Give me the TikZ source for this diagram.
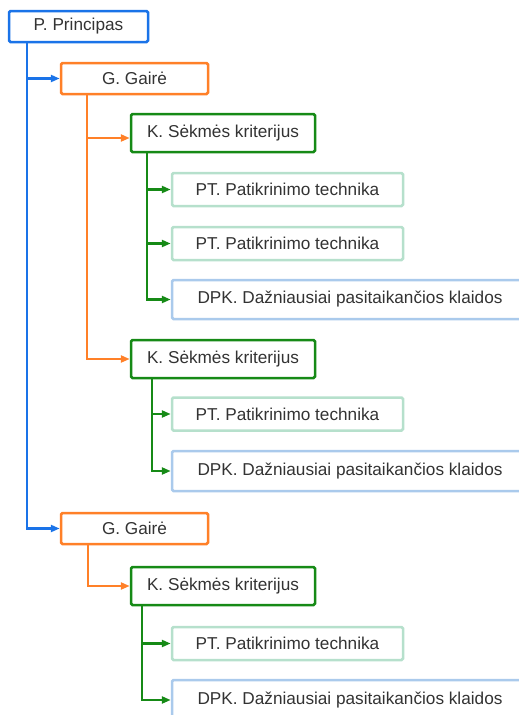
\documentclass[tikz,border=0pt]{standalone}
\usepackage{fontspec}
\setmainfont{Liberation Sans}
\usetikzlibrary{arrows.meta}
\definecolor{cblue}{RGB}{26,115,232}
\definecolor{corange}{RGB}{255,128,40}
\definecolor{cgreen}{RGB}{22,138,22}
\definecolor{clgreen}{RGB}{182,224,204}
\definecolor{clblue}{RGB}{170,202,236}
\definecolor{ctext}{RGB}{51,51,51}
\begin{document}
\begin{tikzpicture}[x=1pt,y=-1pt,
  box/.style={draw, line width=2.5pt, rounded corners=1.5pt, fill=white,
    text=ctext, inner sep=0pt, anchor=center,
    font=\fontsize{17.2}{20}\selectfont},
  pbox/.style={box, draw=cblue, minimum width=139pt, minimum height=31pt},
  gbox/.style={box, draw=corange, minimum width=147pt, minimum height=31pt},
  kbox/.style={box, draw=cgreen, minimum width=184pt, minimum height=38pt},
  tbox/.style={box, draw=clgreen, minimum width=231pt, minimum height=33pt},
  dbox/.style={box, draw=clblue, minimum width=356pt, minimum height=39pt},
  link/.style={line width=2.4pt, -{Triangle[length=9pt,width=7pt]}},
]
\useasboundingbox (0,0) rectangle (519,715);
\clip (0,0) rectangle (519,715);

% principle
\node[pbox] (P) at (78.5,26.5) {P. Principas};

% first guideline
\node[gbox] (G1) at (134.5,78.5) {G. Gairė};
\node[kbox] (K1) at (223,133) {K. Sėkmės kriterijus};
\node[tbox] (T1) at (287.5,189.5) {PT. Patikrinimo technika};
\node[tbox] (T2) at (287.5,243.5) {PT. Patikrinimo technika};
\node[dbox] (D1) at (350,299.5) {DPK. Dažniausiai pasitaikančios klaidos};
\node[kbox] (K2) at (223,359) {K. Sėkmės kriterijus};
\node[tbox] (T3) at (287.5,414) {PT. Patikrinimo technika};
\node[dbox, minimum height=40pt] (D2) at (350,471) {DPK. Dažniausiai pasitaikančios klaidos};

% second guideline
\node[gbox] (G2) at (134.5,528.5) {G. Gairė};
\node[kbox] (K3) at (223,586) {K. Sėkmės kriterijus};
\node[tbox] (T4) at (287.5,643.5) {PT. Patikrinimo technika};
\node[dbox, minimum height=40pt] (D3) at (350,700) {DPK. Dažniausiai pasitaikančios klaidos};

% connectors: principle -> guidelines
\coordinate (pb) at ([xshift=19.5pt]P.south west);
\draw[link, cblue] (pb) |- (G1.west);
\draw[link, cblue] (pb) |- (G2.west);

% guideline -> criteria
\coordinate (g1b) at ([xshift=27pt]G1.south west);
\draw[link, corange] (g1b) |- ([yshift=-5pt]K1.west);
\draw[link, corange] (g1b) |- (K2.west);
\coordinate (g2b) at ([xshift=28pt]G2.south west);
\draw[link, corange] (g2b) |- (K3.west);

% criteria -> techniques and mistakes
\coordinate (k1b) at ([xshift=17pt]K1.south west);
\draw[link, cgreen] (k1b) |- (T1.west);
\draw[link, cgreen] (k1b) |- (T2.west);
\draw[link, cgreen] (k1b) |- (D1.west);
\coordinate (k2b) at ([xshift=22pt]K2.south west);
\draw[link, cgreen] (k2b) |- (T3.west);
\draw[link, cgreen] (k2b) |- (D2.west);
\coordinate (k3b) at ([xshift=12pt]K3.south west);
\draw[link, cgreen] (k3b) |- (T4.west);
\draw[link, cgreen] (k3b) |- (D3.west);
\end{tikzpicture}
\end{document}
